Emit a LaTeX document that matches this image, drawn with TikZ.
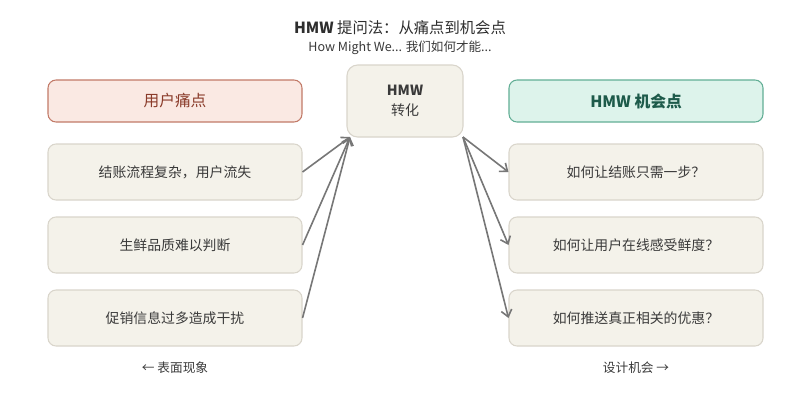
\documentclass[tikz,border=0pt]{standalone}
\usepackage{fontspec}
\setmainfont{Noto Sans CJK SC}
\usetikzlibrary{arrows.meta}
\definecolor{cardfill}{HTML}{F4F2EA}
\definecolor{cardline}{HTML}{D9D5CB}
\definecolor{painfill}{HTML}{FAE9E3}
\definecolor{painline}{HTML}{C27A68}
\definecolor{paintext}{HTML}{8A3B2A}
\definecolor{oppfill}{HTML}{DDF3EB}
\definecolor{oppline}{HTML}{62AE95}
\definecolor{opptext}{HTML}{1D5A4A}
\definecolor{arrowcol}{HTML}{777777}
\definecolor{bodytext}{HTML}{3A3A3A}
\definecolor{titletext}{HTML}{2E2E2E}
\tikzset{
  card/.style={draw=cardline, fill=cardfill, line width=0.8pt, rounded corners=6pt,
    minimum width=190.5pt, minimum height=42pt, inner sep=0pt, text=bodytext, font=\fontsize{10.4}{12}\selectfont},
  painhead/.style={draw=painline, fill=painfill, line width=0.8pt, rounded corners=6pt,
    minimum width=190.5pt, minimum height=31.5pt, inner sep=0pt, text=paintext, font=\fontsize{11.8}{13}\selectfont},
  opphead/.style={draw=oppline, fill=oppfill, line width=0.8pt, rounded corners=6pt,
    minimum width=190.5pt, minimum height=31.5pt, inner sep=0pt, text=opptext, font=\fontsize{11.8}{13}\selectfont\bfseries},
  hmwbox/.style={draw=cardline, fill=cardfill, line width=0.8pt, rounded corners=8pt,
    minimum width=87pt, minimum height=54pt, inner sep=0pt, text=bodytext, align=center, font=\fontsize{10.5}{15}\selectfont},
  conn/.style={draw=arrowcol, line width=1.2pt, -{Straight Barb[length=5pt,width=8pt,line width=1.2pt]}},
  note/.style={text=bodytext, font=\fontsize{9.5}{12}\selectfont}
}
\begin{document}
\begin{tikzpicture}[x=0.75pt,y=-0.75pt]
\useasboundingbox (0,0) rectangle (800,400);
\fill[white] (0,0) rectangle (800,400);
\node[font=\fontsize{11.5}{13}\selectfont, text=titletext] (title) at (400,28) {\textbf{HMW} 提问法：从痛点到机会点};
\node[font=\fontsize{9.4}{12}\selectfont, text=bodytext] (sub) at (400,48) {How Might We... 我们如何才能...};

\node[painhead] (ph) at (175,101) {用户痛点};
\node[card] (p1) at (175,172) {结账流程复杂，用户流失};
\node[card] (p2) at (175,245) {生鲜品质难以判断};
\node[card] (p3) at (175,318) {促销信息过多造成干扰};

\node[hmwbox] (hmw) at (405,101) {\textbf{HMW}\\转化};
\coordinate (hin) at (350,137);
\coordinate (hout) at (463,137);

\node[opphead] (oh) at (636,101) {HMW 机会点};
\node[card] (o1) at (636,172) {如何让结账只需一步？};
\node[card] (o2) at (636,245) {如何让用户在线感受鲜度？};
\node[card] (o3) at (636,318) {如何推送真正相关的优惠？};

\draw[conn] (p1.east) -- (hin);
\draw[conn] (p2.east) -- (hin);
\draw[conn] (p3.east) -- (hin);
\draw[conn] (hout) -- (o1.west);
\draw[conn] (hout) -- (o2.west);
\draw[conn] (hout) -- (o3.west);

\node[note] (ln) at (175,368) {← 表面现象};
\node[note] (rn) at (636,368) {设计机会 →};
\end{tikzpicture}
\end{document}
